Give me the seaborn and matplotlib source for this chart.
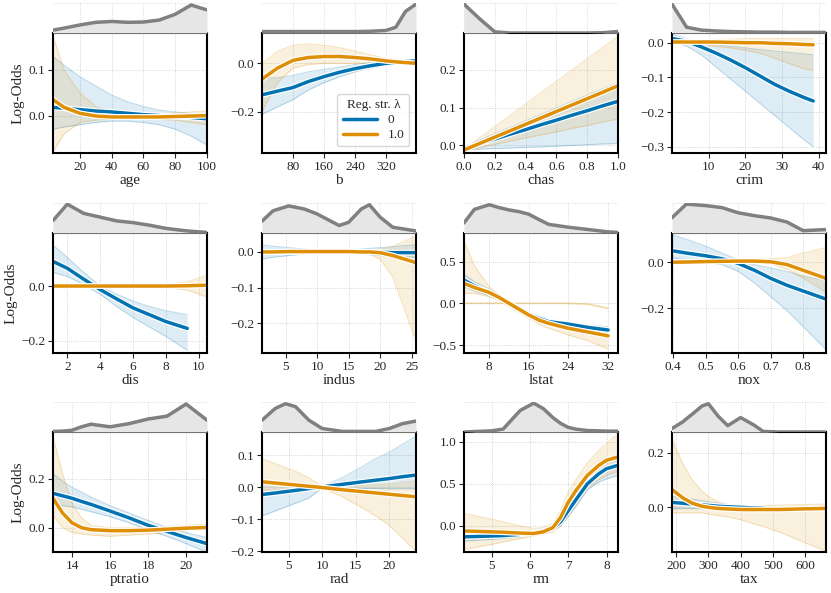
import numpy as np
import pandas as pd
import matplotlib
matplotlib.use("Agg")
import matplotlib.pyplot as plt
import matplotlib.patheffects as pe
from matplotlib.lines import Line2D
import seaborn as sns

nan = np.nan

# ---------------------------------------------------------------- data
# per feature: x grid, marginal density, and for each lambda (0 / 1.0)
# the mean shape curve plus a lower / upper envelope of the sampled curves
FEATURES = ["age", "b", "chas", "crim", "dis", "indus",
            "lstat", "nox", "ptratio", "rad", "rm", "tax"]
LAMBDAS = ["0", "1.0"]

AGE_X = [3, 10, 20, 30, 40, 50, 60, 70, 80, 90, 100]
AGE_DENS = [0.1, 0.17, 0.28, 0.37, 0.4, 0.37, 0.38, 0.45, 0.65, 0.97, 0.8]
AGE_MEAN_0 = [0.018, 0.016, 0.013, 0.010, 0.008, 0.005, 0.002, 0.0, -0.002, -0.004, -0.007]
AGE_LO_0 = [-0.03, -0.025, -0.02, -0.015, -0.012, -0.012, -0.015, -0.02, -0.03, -0.045, -0.065]
AGE_HI_0 = [0.13, 0.11, 0.085, 0.065, 0.045, 0.03, 0.02, 0.012, 0.008, 0.005, 0.003]
AGE_MEAN_1 = [0.035, 0.018, 0.005, -0.001, -0.003, -0.003, -0.003, -0.003, -0.002, -0.001, 0.0]
AGE_LO_1 = [-0.08, -0.04, -0.015, -0.01, -0.008, -0.008, -0.008, -0.008, -0.01, -0.015, -0.02]
AGE_HI_1 = [0.175, 0.10, 0.05, 0.02, 0.008, 0.004, 0.003, 0.004, 0.006, 0.008, 0.01]

B_X = [0.3, 40, 80, 120, 160, 200, 240, 280, 320, 345, 370, 397]
B_DENS = [0.05, 0.05, 0.05, 0.05, 0.05, 0.05, 0.05, 0.06, 0.09, 0.2, 0.75, 1.0]
B_MEAN_0 = [-0.13, -0.115, -0.10, -0.075, -0.055, -0.037, -0.022, -0.01, 0.0, 0.004, 0.007, 0.01]
B_LO_0 = [-0.21, -0.18, -0.15, -0.11, -0.08, -0.055, -0.035, -0.02, -0.008, -0.003, 0.001, 0.005]
B_HI_0 = [-0.06, -0.06, -0.05, -0.035, -0.025, -0.015, -0.005, 0.003, 0.008, 0.01, 0.012, 0.015]
B_MEAN_1 = [-0.065, -0.02, 0.012, 0.024, 0.028, 0.028, 0.024, 0.018, 0.01, 0.006, 0.003, 0.0]
B_LO_1 = [-0.2, -0.08, -0.02, -0.005, 0.0, 0.0, 0.0, 0.0, 0.0, 0.0, -0.001, -0.003]
B_HI_1 = [0.0, 0.05, 0.075, 0.08, 0.075, 0.065, 0.05, 0.035, 0.02, 0.013, 0.008, 0.003]

CHAS_X = [0.0, 0.1, 0.2, 0.3, 0.4, 0.5, 0.6, 0.7, 0.8, 0.9, 1.0]
CHAS_DENS = [1.0, 0.5, 0.04, 0.0, 0.0, 0.0, 0.0, 0.0, 0.0, 0.01, 0.05]
CHAS_MEAN_0 = [-0.008, 0.005, 0.017, 0.03, 0.042, 0.055, 0.067, 0.08, 0.092, 0.105, 0.117]
CHAS_LO_0 = [-0.01, -0.01, -0.008, -0.007, -0.005, -0.004, -0.002, 0.0, 0.002, 0.004, 0.005]
CHAS_HI_0 = [-0.003, 0.014, 0.031, 0.048, 0.065, 0.082, 0.099, 0.116, 0.133, 0.15, 0.165]
CHAS_MEAN_1 = [-0.012, 0.005, 0.022, 0.039, 0.056, 0.073, 0.09, 0.107, 0.124, 0.141, 0.158]
CHAS_LO_1 = [-0.015, -0.006, 0.003, 0.011, 0.02, 0.028, 0.036, 0.045, 0.053, 0.062, 0.07]
CHAS_HI_1 = [-0.01, 0.02, 0.05, 0.08, 0.11, 0.14, 0.17, 0.2, 0.23, 0.26, 0.29]

CRIM_X = [0, 4, 8, 12, 16, 20, 24, 28, 32, 36, 38.5, 42]
CRIM_DENS = [1.0, 0.2, 0.1, 0.07, 0.05, 0.04, 0.03, 0.03, 0.02, 0.02, 0.02, 0.02]
CRIM_MEAN_0 = [0.012, 0.004, -0.012, -0.03, -0.05, -0.072, -0.096, -0.12, -0.14, -0.158, -0.168, nan]
CRIM_LO_0 = [0.005, -0.01, -0.035, -0.07, -0.105, -0.14, -0.175, -0.21, -0.245, -0.28, -0.3, nan]
CRIM_HI_0 = [0.025, 0.012, 0.0, -0.005, -0.01, -0.015, -0.02, -0.024, -0.028, -0.032, -0.035, nan]
CRIM_MEAN_1 = [0.002, 0.002, 0.002, 0.002, 0.001, 0.0, 0.0, -0.002, -0.003, -0.005, -0.006, nan]
CRIM_LO_1 = [0.0, -0.002, -0.005, -0.01, -0.015, -0.022, -0.03, -0.045, -0.06, -0.075, -0.08, nan]
CRIM_HI_1 = [0.005, 0.006, 0.008, 0.01, 0.01, 0.012, 0.012, 0.012, 0.012, 0.012, 0.012, nan]

DIS_X = [1.13, 2, 3, 4, 5, 6, 7, 8, 9.3, 10.5]
DIS_DENS = [0.43, 1.0, 0.68, 0.55, 0.42, 0.36, 0.27, 0.16, 0.07, 0.02]
DIS_MEAN_0 = [0.09, 0.065, 0.025, -0.013, -0.047, -0.08, -0.105, -0.13, -0.155, nan]
DIS_LO_0 = [0.05, 0.035, 0.005, -0.03, -0.075, -0.115, -0.15, -0.185, -0.235, nan]
DIS_HI_0 = [0.15, 0.105, 0.05, 0.0, -0.03, -0.055, -0.075, -0.09, -0.105, nan]
DIS_MEAN_1 = [0.0, 0.0, 0.0, 0.0, 0.0, 0.0, 0.0, 0.0, 0.001, 0.003]
DIS_LO_1 = [-0.003, -0.003, -0.002, -0.002, -0.002, -0.002, -0.003, -0.005, -0.015, -0.04]
DIS_HI_1 = [0.003, 0.003, 0.002, 0.002, 0.002, 0.002, 0.003, 0.005, 0.015, 0.04]

INDUS_X = [1.25, 3, 5.5, 8, 10, 12, 13.5, 15, 17, 18.3, 20, 22, 25.7]
INDUS_DENS = [0.41, 0.77, 0.94, 0.83, 0.66, 0.43, 0.26, 0.37, 0.83, 0.98, 0.55, 0.2, 0.07]
INDUS_MEAN_0 = [0.0, 0.0, 0.0, 0.0, 0.0, 0.0, 0.0, 0.0, -0.001, -0.001, -0.001, -0.002, -0.002]
INDUS_LO_0 = [-0.02, -0.015, -0.01, -0.006, -0.004, -0.003, -0.003, -0.004, -0.006, -0.008, -0.01, -0.012, -0.015]
INDUS_HI_0 = [0.02, 0.016, 0.012, 0.008, 0.005, 0.003, 0.003, 0.005, 0.008, 0.01, 0.012, 0.015, 0.02]
INDUS_MEAN_1 = [0.0, 0.0, 0.001, 0.001, 0.001, 0.001, 0.001, 0.001, 0.0, 0.0, -0.002, -0.01, -0.03]
INDUS_LO_1 = [-0.003, -0.002, -0.002, -0.001, -0.001, -0.001, -0.001, -0.002, -0.003, -0.005, -0.02, -0.07, -0.25]
INDUS_HI_1 = [0.003, 0.003, 0.003, 0.003, 0.003, 0.003, 0.003, 0.003, 0.004, 0.006, 0.008, 0.015, 0.045]

LSTAT_X = [2.9, 5, 8, 10, 12, 14, 16, 18, 20, 24, 28, 32, 34]
LSTAT_DENS = [0.35, 0.82, 0.98, 0.88, 0.8, 0.74, 0.65, 0.47, 0.3, 0.2, 0.12, 0.04, 0.02]
LSTAT_MEAN_0 = [0.28, 0.21, 0.13, 0.07, 0.0, -0.065, -0.13, -0.18, -0.22, -0.25, -0.29, -0.32, nan]
LSTAT_LO_0 = [0.2, 0.15, 0.09, 0.04, -0.03, -0.09, -0.16, -0.21, -0.25, -0.3, -0.33, -0.36, nan]
LSTAT_HI_0 = [0.35, 0.26, 0.17, 0.1, 0.03, -0.04, -0.1, -0.15, -0.19, -0.23, -0.26, -0.28, nan]
LSTAT_MEAN_1 = [0.24, 0.19, 0.13, 0.07, 0.0, -0.07, -0.14, -0.2, -0.24, -0.3, -0.345, -0.39, nan]
LSTAT_LO_1 = [0.12, 0.12, 0.08, 0.03, -0.04, -0.11, -0.18, -0.25, -0.3, -0.38, -0.45, -0.55, nan]
LSTAT_HI_1 = [0.75, 0.45, 0.2, 0.1, 0.03, -0.04, -0.11, -0.16, -0.2, -0.26, -0.3, -0.33, nan]
LSTAT_FLAT_1 = [0.0, 0.0, 0.0, 0.0, 0.0, 0.0, 0.0, 0.0, 0.0, 0.0, -0.01, -0.06, nan]

NOX_X = [0.396, 0.44, 0.5, 0.55, 0.6, 0.65, 0.7, 0.75, 0.8, 0.87]
NOX_DENS = [0.53, 1.0, 0.95, 0.88, 0.7, 0.6, 0.52, 0.38, 0.08, 0.12]
NOX_MEAN_0 = [0.05, 0.04, 0.028, 0.015, -0.005, -0.035, -0.07, -0.1, -0.125, -0.16]
NOX_LO_0 = [0.02, 0.01, 0.0, -0.01, -0.04, -0.09, -0.15, -0.21, -0.28, -0.38]
NOX_HI_0 = [0.12, 0.1, 0.07, 0.04, 0.01, -0.01, -0.025, -0.04, -0.06, -0.08]
NOX_MEAN_1 = [0.0, 0.001, 0.003, 0.004, 0.005, 0.005, 0.002, -0.01, -0.035, -0.07]
NOX_LO_1 = [-0.005, -0.003, -0.002, -0.001, 0.0, -0.002, -0.008, -0.03, -0.07, -0.13]
NOX_HI_1 = [0.005, 0.006, 0.008, 0.009, 0.01, 0.012, 0.015, 0.02, 0.04, 0.065]

PTRATIO_X = [13.0, 13.5, 14, 14.5, 15, 16, 17, 18, 19, 20, 21.1]
PTRATIO_DENS = [0.02, 0.03, 0.06, 0.18, 0.27, 0.18, 0.29, 0.45, 0.55, 0.97, 0.41]
PTRATIO_MEAN_0 = [0.14, 0.13, 0.12, 0.107, 0.095, 0.068, 0.04, 0.01, -0.015, -0.04, -0.065]
PTRATIO_LO_0 = [0.1, 0.09, 0.085, 0.075, 0.065, 0.045, 0.02, -0.01, -0.035, -0.065, -0.1]
PTRATIO_HI_0 = [0.22, 0.19, 0.165, 0.145, 0.125, 0.09, 0.06, 0.03, 0.0, -0.02, -0.04]
PTRATIO_MEAN_1 = [0.12, 0.06, 0.02, 0.0, -0.008, -0.012, -0.012, -0.01, -0.006, -0.002, 0.001]
PTRATIO_LO_1 = [0.05, 0.0, -0.02, -0.025, -0.03, -0.035, -0.03, -0.025, -0.02, -0.012, -0.005]
PTRATIO_HI_1 = [0.37, 0.22, 0.1, 0.04, 0.01, 0.0, 0.0, 0.0, 0.005, 0.01, 0.015]

RAD_X = [1, 3, 4.5, 6, 8, 10, 13, 16, 18, 20, 22, 24]
RAD_DENS = [0.41, 0.82, 0.98, 0.88, 0.41, 0.12, 0.02, 0.02, 0.02, 0.12, 0.29, 0.38]
RAD_MEAN_0 = [-0.023, -0.018, -0.014, -0.010, -0.004, 0.001, 0.009, 0.017, 0.022, 0.027, 0.033, 0.038]
RAD_LO_0 = [-0.09, -0.074, -0.062, -0.05, -0.034, -0.002, -0.003, -0.004, -0.004, -0.005, -0.005, -0.005]
RAD_HI_0 = [0.01, 0.008, 0.006, 0.005, 0.003, 0.003, 0.03, 0.065, 0.09, 0.11, 0.135, 0.16]
RAD_MEAN_1 = [0.017, 0.013, 0.01, 0.007, 0.003, -0.001, -0.008, -0.014, -0.018, -0.022, -0.026, -0.03]
RAD_LO_1 = [-0.01, -0.008, -0.006, -0.005, -0.003, -0.003, -0.03, -0.065, -0.09, -0.12, -0.16, -0.2]
RAD_HI_1 = [0.09, 0.074, 0.062, 0.05, 0.03, 0.003, 0.004, 0.006, 0.008, 0.01, 0.015, 0.02]

RM_X = [4.28, 5, 5.3, 5.75, 6.1, 6.35, 6.6, 6.8, 7.0, 7.2, 7.5, 7.8, 8.0, 8.3]
RM_DENS = [0.0, 0.04, 0.1, 0.75, 1.0, 0.81, 0.5, 0.3, 0.16, 0.1, 0.05, 0.04, 0.03, 0.03]
RM_MEAN_0 = [-0.13, -0.12, -0.115, -0.1, -0.085, -0.06, -0.03, 0.05, 0.18, 0.31, 0.5, 0.62, 0.68, 0.72]
RM_LO_0 = [-0.18, -0.16, -0.15, -0.13, -0.11, -0.09, -0.06, 0.0, 0.11, 0.23, 0.43, 0.52, 0.56, 0.6]
RM_HI_0 = [-0.08, -0.08, -0.08, -0.07, -0.06, -0.03, 0.0, 0.1, 0.24, 0.38, 0.58, 0.7, 0.75, 0.8]
RM_MEAN_1 = [-0.06, -0.07, -0.075, -0.085, -0.09, -0.07, -0.02, 0.1, 0.28, 0.42, 0.6, 0.72, 0.78, 0.82]
RM_LO_1 = [-0.28, -0.22, -0.19, -0.15, -0.12, -0.1, -0.07, 0.0, 0.12, 0.25, 0.45, 0.55, 0.6, 0.65]
RM_HI_1 = [0.15, 0.08, 0.05, 0.0, -0.03, -0.02, 0.03, 0.18, 0.4, 0.55, 0.75, 0.9, 0.98, 1.1]

TAX_X = [187, 220, 250, 280, 300, 330, 360, 400, 440, 470, 520, 580, 665]
TAX_DENS = [0.12, 0.35, 0.62, 0.9, 0.98, 0.55, 0.22, 0.5, 0.25, 0.02, 0.0, 0.0, 0.0]
TAX_MEAN_0 = [0.018, 0.015, 0.012, 0.009, 0.007, 0.004, 0.002, 0.0, -0.002, -0.003, nan, nan, nan]
TAX_LO_0 = [-0.005, -0.005, -0.005, -0.005, -0.005, -0.006, -0.006, -0.007, -0.008, -0.009, nan, nan, nan]
TAX_HI_0 = [0.04, 0.035, 0.03, 0.025, 0.02, 0.015, 0.01, 0.006, 0.003, 0.001, nan, nan, nan]
TAX_MEAN_1 = [0.065, 0.035, 0.015, 0.004, 0.0, -0.004, -0.006, -0.008, -0.008, -0.008, -0.008, -0.006, -0.004]
TAX_LO_1 = [-0.02, -0.02, -0.02, -0.02, -0.025, -0.03, -0.035, -0.045, -0.06, -0.07, -0.09, -0.12, -0.16]
TAX_HI_1 = [0.25, 0.16, 0.1, 0.06, 0.04, 0.02, 0.01, 0.005, 0.005, 0.006, 0.008, 0.01, 0.012]

XTICKS = {
    "age": [20, 40, 60, 80, 100], "b": [80, 160, 240, 320],
    "chas": [0.0, 0.2, 0.4, 0.6, 0.8, 1.0], "crim": [10, 20, 30, 40],
    "dis": [2, 4, 6, 8, 10], "indus": [5, 10, 15, 20, 25],
    "lstat": [8, 16, 24, 32], "nox": [0.4, 0.5, 0.6, 0.7, 0.8],
    "ptratio": [14, 16, 18, 20], "rad": [5, 10, 15, 20],
    "rm": [5, 6, 7, 8], "tax": [200, 300, 400, 500, 600],
}
YTICKS = {
    "age": [0.0, 0.1], "b": [-0.2, 0.0], "chas": [0.0, 0.1, 0.2],
    "crim": [-0.3, -0.2, -0.1, 0.0], "dis": [-0.2, 0.0],
    "indus": [-0.2, -0.1, 0.0], "lstat": [-0.5, 0.0, 0.5],
    "nox": [-0.2, 0.0], "ptratio": [0.0, 0.2],
    "rad": [-0.2, -0.1, 0.0, 0.1], "rm": [0.0, 0.5, 1.0], "tax": [0.0, 0.2],
}

# ---------------------------------------------------------------- layout
YLIM = {
    "age": (-0.082, 0.181), "b": (-0.37, 0.125), "chas": (-0.02, 0.298),
    "crim": (-0.318, 0.028), "dis": (-0.245, 0.194), "indus": (-0.283, 0.053),
    "lstat": (-0.596, 0.844), "nox": (-0.394, 0.127), "ptratio": (-0.099, 0.39),
    "rad": (-0.203, 0.173), "rm": (-0.31, 1.116), "tax": (-0.163, 0.275),
}
W, H = 831, 593
COL_LEFT = [53, 262, 464, 672]
COL_W = 154
ROW_TOP = [33, 233, 432]
MAIN_H = 120
DENS_H = 30

BLUE = "#0173b2"
ORANGE = "#de8f05"
PALETTE = {"0": BLUE, "1.0": ORANGE}

sns.set_theme(style="white")
plt.rcParams["font.family"] = ["Liberation Serif", "DejaVu Serif"]
plt.rcParams["mathtext.fontset"] = "stix"

fig = plt.figure(figsize=(W / 100, H / 100), dpi=100)

data = {name: [globals()[f"{name.upper()}_{k}"] for k in
               ["X", "DENS", "MEAN_0", "LO_0", "HI_0", "MEAN_1", "LO_1", "HI_1"]]
        for name in FEATURES}

outline = [pe.Stroke(linewidth=4.2, foreground="white"), pe.Normal()]

for i, feat in enumerate(FEATURES):
    r, c = divmod(i, 4)
    left = COL_LEFT[c] / W
    bottom = (H - ROW_TOP[r] - MAIN_H) / H
    ax = fig.add_axes([left, bottom, COL_W / W, MAIN_H / H])
    axd = fig.add_axes([left, bottom + MAIN_H / H, COL_W / W, DENS_H / H], sharex=ax)

    x, dens, m0, lo0, hi0, m1, lo1, hi1 = [np.array(v, dtype=float) for v in data[feat]]

    # sampled-curve spread
    for lo, hi, col in [(lo0, hi0, BLUE), (lo1, hi1, ORANGE)]:
        ax.fill_between(x, lo, hi, color=col, alpha=0.13, lw=0)
        ax.plot(x, lo, color=col, alpha=0.25, lw=0.7)
        ax.plot(x, hi, color=col, alpha=0.25, lw=0.7)
    if feat == "lstat":
        ax.plot(x, LSTAT_FLAT_1, color=ORANGE, alpha=0.35, lw=1.2)

    df = pd.DataFrame({
        "x": np.concatenate([x, x]),
        "y": np.concatenate([m0, m1]),
        "lam": [LAMBDAS[0]] * len(x) + [LAMBDAS[1]] * len(x),
    })
    sns.lineplot(data=df, x="x", y="y", hue="lam", palette=PALETTE,
                 estimator=None, sort=False, lw=2.5, path_effects=outline,
                 legend=False, ax=ax)

    ax.set_xlim(x[0], x[-1])
    ax.set_ylim(*YLIM[feat])
    ax.set_xticks(XTICKS[feat])
    ax.set_yticks(YTICKS[feat])
    ax.grid(True, ls=":", lw=0.6, color="#c8c8c8")
    for s in ax.spines.values():
        s.set_linewidth(1.5)
        s.set_color("black")
    ax.tick_params(axis="both", which="both", direction="out", length=3.5,
                   width=0.8, labelsize=9.5, pad=2, bottom=True, left=True)
    ax.set_xlabel(feat, fontsize=11, labelpad=1)
    ax.set_ylabel("Log-Odds" if c == 0 else "", fontsize=11, labelpad=3)

    # marginal density
    axd.fill_between(x, 0, dens, color="#e6e6e6", lw=0)
    axd.plot(x, dens, color="#808080", lw=2.5, solid_capstyle="round")
    axd.set_ylim(0, 1.04)
    axd.set_yticks([1.04])
    axd.grid(True, ls=":", lw=0.6, color="#d0d0d0")
    axd.tick_params(labelbottom=False, labelleft=False, length=0)
    for s in axd.spines.values():
        s.set_visible(False)

    if feat == "b":
        handles = [Line2D([], [], color=PALETTE[k], lw=2.5) for k in LAMBDAS]
        leg = ax.legend(handles, LAMBDAS, title="Reg. str. λ", loc="lower right",
                        fontsize=9.5, title_fontsize=9.5, frameon=True,
                        handlelength=2.6, borderpad=0.4, labelspacing=0.2)
        leg.get_frame().set_edgecolor("#cccccc")

fig.savefig("out.png", dpi=100)
